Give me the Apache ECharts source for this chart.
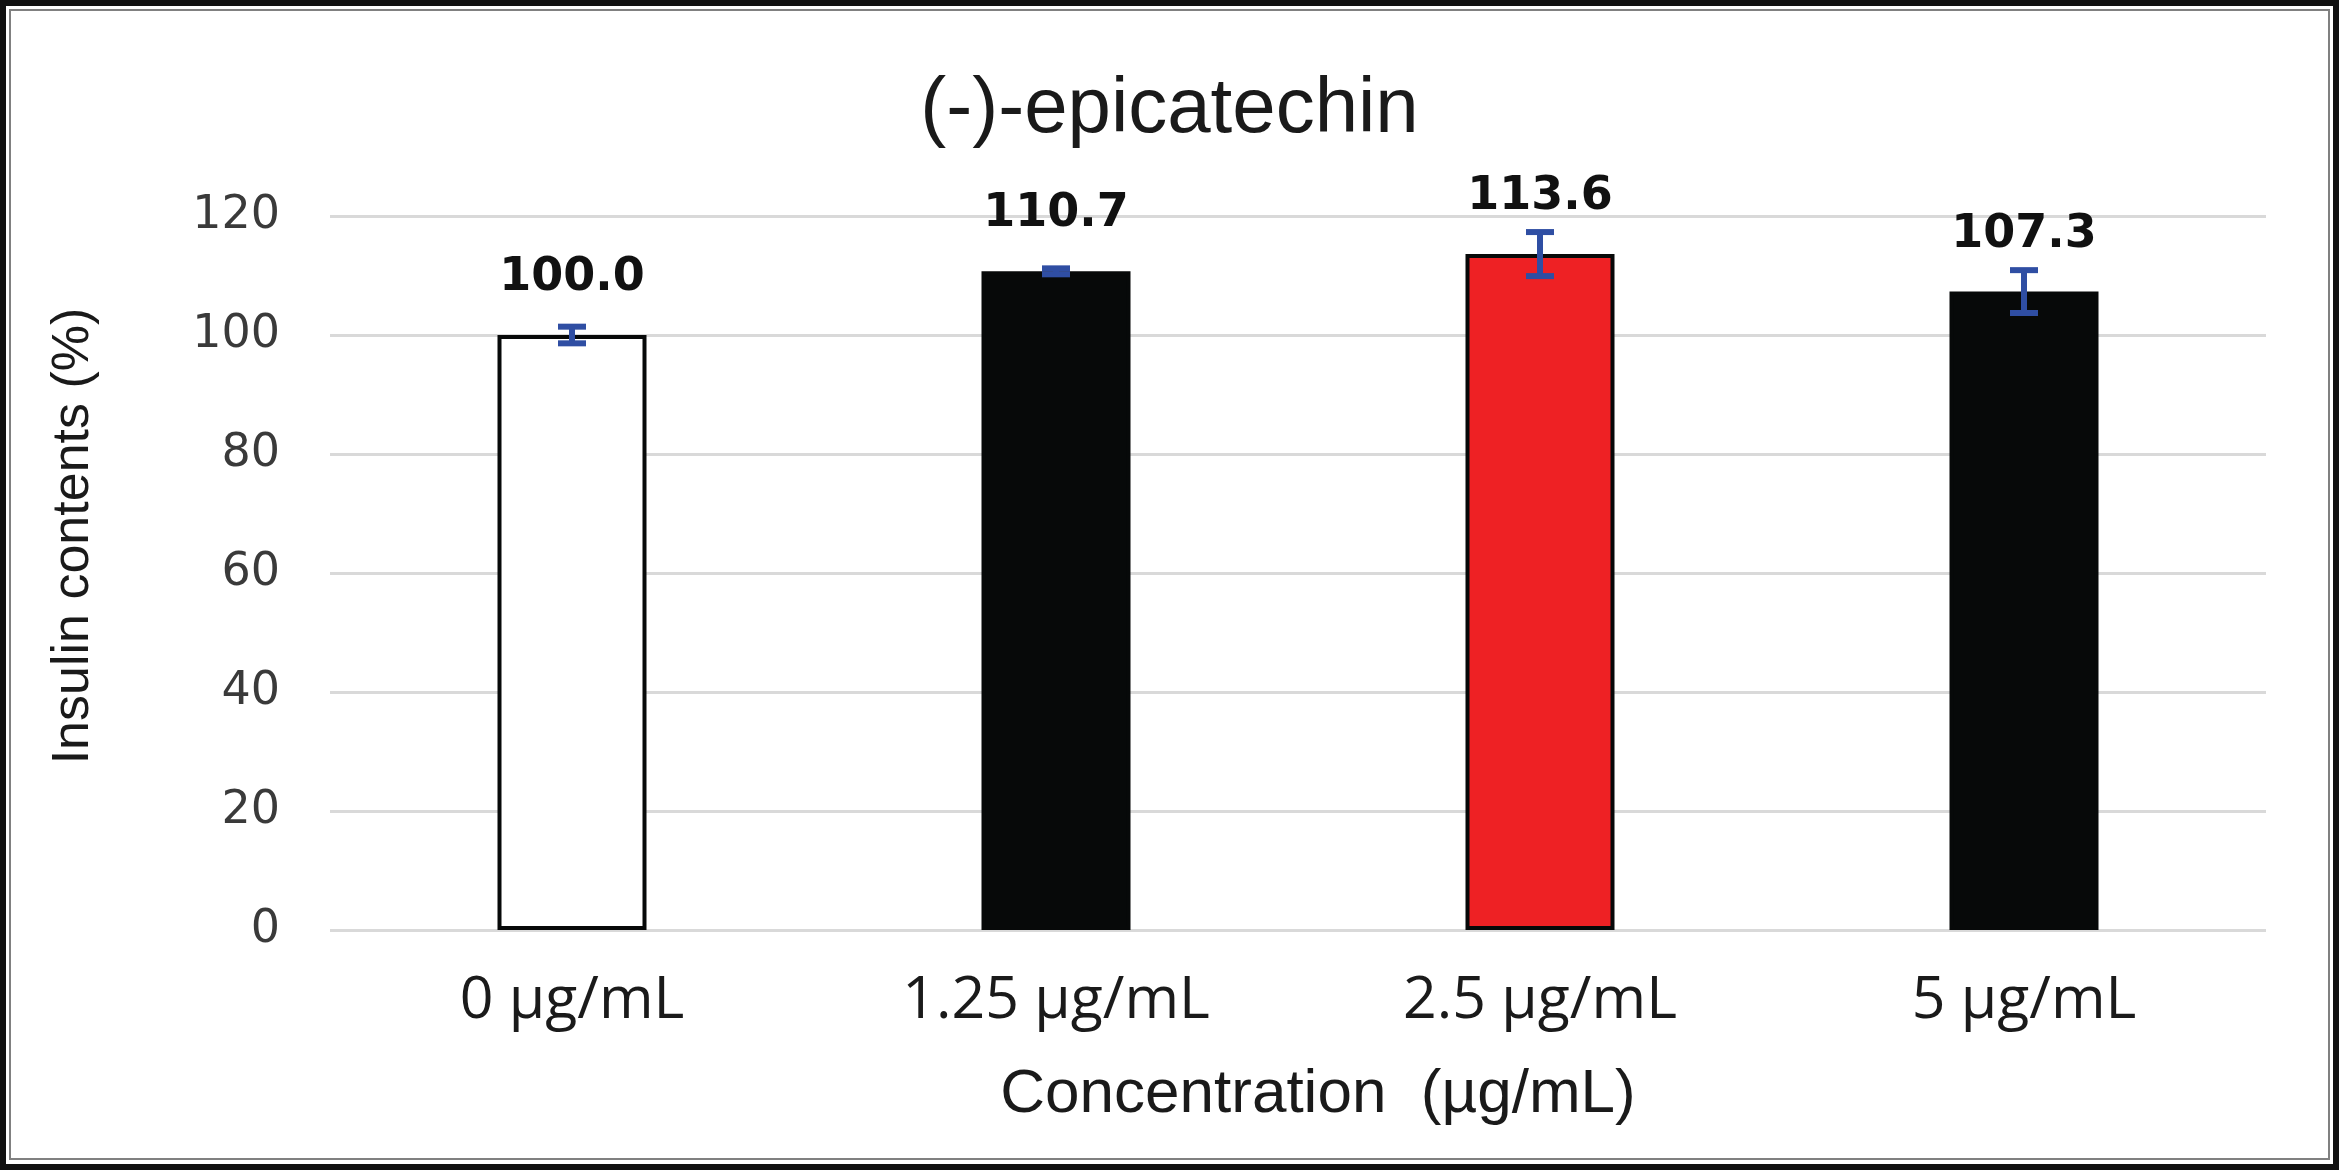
<!DOCTYPE html>
<html>
<head>
<meta charset="utf-8">
<script src="https://cdn.jsdelivr.net/npm/echarts@6/dist/echarts.min.js"></script>
<style>
  html, body { margin: 0; padding: 0; background: #fff; }
  #chart { width: 2339px; height: 1170px; }
</style>
</head>
<body>
<div id="chart"></div>
<script>
const titleText = '(-)-epicatechin';
const categories = ['0 µg/mL', '1.25 µg/mL', '2.5 µg/mL', '5 µg/mL'];
const values = [100.0, 110.7, 113.6, 107.3];
const errors = [1.4, 0.5, 3.7, 3.6];
const barColors = ['#ffffff', '#070909', '#ee2124', '#070909'];
const yTicks = { min: 0, max: 120, interval: 20 };
const yName = 'Insulin contents (%)';
const xName = 'Concentration  (µg/mL)';

const chart = echarts.init(document.getElementById('chart'), null, { renderer: 'canvas' });

const barData = values.map((v, i) => ({
  value: v,
  itemStyle: { color: barColors[i], borderColor: '#070909', borderWidth: 4 }
}));
const errData = values.map((v, i) => [i, v - errors[i], v + errors[i]]);

const option = {
  animation: false,
  backgroundColor: '#ffffff',
  title: {
    text: titleText,
    left: 'center',
    top: 66,
    textStyle: { fontFamily: 'Liberation Sans', fontSize: 78, fontWeight: 'normal', color: '#1a1a1a' }
  },
  graphic: [
    { type: 'rect', shape: { x: 3, y: 3, width: 2333, height: 1164 }, style: { fill: 'none', stroke: '#111', lineWidth: 6 }, silent: true },
    { type: 'rect', shape: { x: 10, y: 10, width: 2319, height: 1149 }, style: { fill: 'none', stroke: '#808080', lineWidth: 2 }, silent: true }
  ],
  grid: [
    { left: 330, right: 73, top: 216, bottom: 240 },
    { left: 330, right: 73, top: 216, bottom: 240 }
  ],
  xAxis: [
    {
      type: 'category', gridIndex: 0, data: categories,
      axisLine: { show: false }, axisTick: { show: false },
      axisLabel: { fontFamily: 'Open Sans', fontSize: 59, color: '#1a1a1a', margin: 42 },
      name: xName, nameLocation: 'middle', nameGap: 134,
      nameTextStyle: { fontFamily: 'Liberation Sans', fontSize: 62, color: '#1a1a1a', padding: [0, 0, 0, 40] }
    },
    { type: 'category', gridIndex: 1, data: categories, show: false }
  ],
  yAxis: [
    {
      type: 'value', gridIndex: 0, min: yTicks.min, max: yTicks.max, interval: yTicks.interval,
      axisLine: { show: false }, axisTick: { show: false },
      splitLine: { show: true, lineStyle: { color: '#d9d9d9', width: 3 } },
      axisLabel: { fontFamily: 'DejaVu Sans', fontSize: 46, color: '#3a3a3a', margin: 50 },
      name: yName, nameLocation: 'middle', nameGap: 230, nameRotate: 90,
      nameTextStyle: { fontFamily: 'Liberation Sans', fontSize: 52, color: '#1a1a1a', padding: [0, 0, 0, 74] }
    },
    { type: 'value', gridIndex: 1, min: yTicks.min, max: yTicks.max, interval: yTicks.interval, show: false, splitLine: { show: false } }
  ],
  series: [
    {
      type: 'bar', xAxisIndex: 0, yAxisIndex: 0, data: barData, barWidth: 149,
      label: {
        show: true, position: 'top', distance: 34,
        formatter: p => p.value.toFixed(1),
        fontFamily: 'DejaVu Sans', fontWeight: 'bold', fontSize: 46, color: '#111'
      },
      z: 2
    },
    {
      type: 'custom', xAxisIndex: 1, yAxisIndex: 1, data: errData, z: 5,
      renderItem: function (params, api) {
        const x = api.value(0);
        const lo = api.coord([x, api.value(1)]);
        const hi = api.coord([x, api.value(2)]);
        const hw = 14;
        const style = { stroke: '#2f4ea3', lineWidth: 6, fill: 'none' };
        return {
          type: 'group',
          children: [
            { type: 'line', shape: { x1: lo[0], y1: lo[1], x2: hi[0], y2: hi[1] }, style: style },
            { type: 'line', shape: { x1: hi[0] - hw, y1: hi[1], x2: hi[0] + hw, y2: hi[1] }, style: style },
            { type: 'line', shape: { x1: lo[0] - hw, y1: lo[1], x2: lo[0] + hw, y2: lo[1] }, style: style }
          ]
        };
      }
    }
  ]
};
chart.setOption(option);
</script>
</body>
</html>
